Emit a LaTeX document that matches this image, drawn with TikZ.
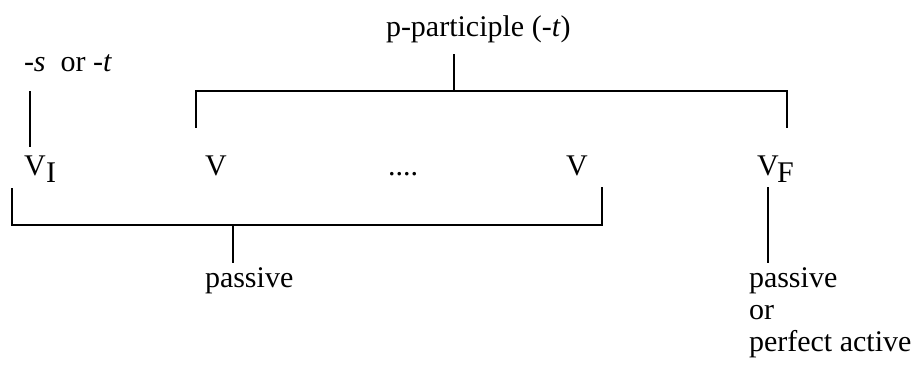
\documentclass[tikz,border=0pt]{standalone}
\usepackage{fontspec}
\setmainfont{Liberation Serif}
\begin{document}
\begin{tikzpicture}[x=1pt,y=-1pt,
  lbl/.style={anchor=base west,inner sep=0pt,outer sep=0pt,font=\fontsize{30}{32}\selectfont},
  ln/.style={line width=1.5pt,line cap=rect,line join=miter}]
\useasboundingbox (0,0) rectangle (918,364);
% texts
\node[lbl] (st) at (24,71) {-\textit{s}\ \ or -\textit{t}};
\node[lbl] (pp) at (386,36) {p-participle (-\textit{t})};
\node[lbl] (vi) at (24,175) {V};
\node[lbl] (vis) at (46,182) {I};
\node[lbl] (v1) at (205,175) {V};
\node[lbl] (dots) at (388,175) {....};
\node[lbl] (v2) at (566,175) {V};
\node[lbl] (vf) at (757,175) {V};
\node[lbl] (vfs) at (777,182) {F};
\node[lbl] (pas) at (205,287) {passive};
\node[lbl] (pas2) at (749,287) {passive};
\node[lbl] (or) at (749,319) {or};
\node[lbl] (pa) at (749,351) {perfect active};
% connector points
\coordinate (a1) at (30,92);  \coordinate (a2) at (30,146);
\coordinate (t0) at (454,55); \coordinate (tm) at (454,91);
\coordinate (tl) at (196,91); \coordinate (tlb) at (196,127);
\coordinate (tr) at (787,91); \coordinate (trb) at (787,127);
\coordinate (bl) at (12,225); \coordinate (blt) at (12,189);
\coordinate (br) at (602,225); \coordinate (brt) at (602,188);
\coordinate (bm) at (233,225); \coordinate (bmb) at (233,262);
\coordinate (f1) at (768,188); \coordinate (f2) at (768,262);
% connectors
\draw[ln] (a1) -- (a2);
\draw[ln] (tlb) -- (tl) -- (tr) -- (trb);
\draw[ln] (t0) -- (tm);
\draw[ln] (blt) -- (bl) -- (br) -- (brt);
\draw[ln] (bm) -- (bmb);
\draw[ln] (f1) -- (f2);
\end{tikzpicture}
\end{document}
